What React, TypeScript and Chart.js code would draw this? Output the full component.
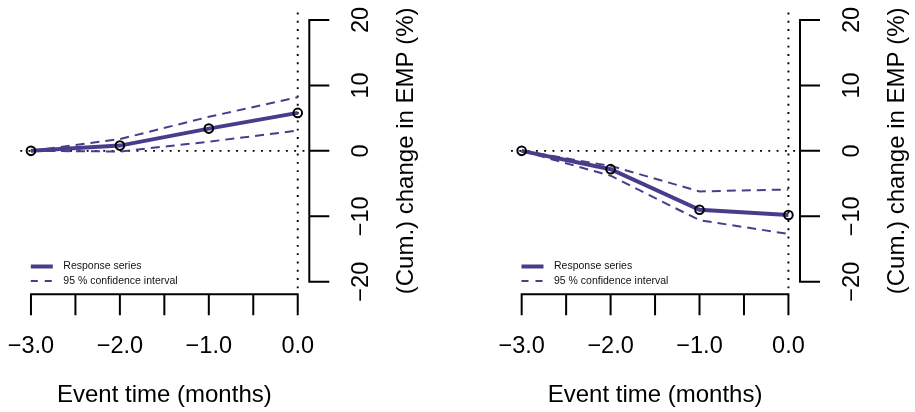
import React, { useEffect, useRef } from "react";
import { Chart, registerables } from "chart.js";

Chart.register(...registerables);

// ---- data ----
const eventTime = [-3, -2, -1, 0];
const leftResponse = [0, 0.8, 3.4, 5.8];
const leftUpper = [0, 1.8, 5.2, 8.2];
const leftLower = [0, -0.1, 1.4, 3.1];
const rightResponse = [0, -2.8, -9.0, -9.8];
const rightUpper = [0, -2.3, -6.2, -5.9];
const rightLower = [0, -3.8, -10.6, -12.7];

const xTicks = [-3, -2.5, -2, -1.5, -1, -0.5, 0];
const xTickLabels = ["\u22123.0", "", "\u22122.0", "", "\u22121.0", "", "0.0"];
const yTicks = [-20, -10, 0, 10, 20];
const yTickLabels = ["\u221220", "\u221210", "0", "10", "20"];
const legendLabels = ["Response series", "95 % confidence interval"];
const xTitle = "Event time (months)";
const yTitle = "(Cum.) change in EMP (%)";

const PURPLE = "#483D8B";
const FONT = '"Liberation Sans", Arial, Helvetica, sans-serif';

const rPlugin = {
  id: "rstyle",
  beforeDatasetsDraw(chart: any) {
    const { ctx, chartArea: a } = chart;
    const x = chart.scales.x;
    const y = chart.scales.y;
    const y0 = y.getPixelForValue(0);
    const x0 = x.getPixelForValue(0);
    ctx.save();
    ctx.strokeStyle = "#000";
    ctx.lineWidth = 1.9;
    ctx.setLineDash([1.9, 6.4]);
    ctx.beginPath();
    ctx.moveTo(a.left, y0);
    ctx.lineTo(a.right, y0);
    ctx.stroke();
    ctx.beginPath();
    ctx.moveTo(x0, a.top + 3);
    ctx.lineTo(x0, a.bottom);
    ctx.stroke();
    ctx.restore();
  },
  afterDraw(chart: any) {
    const { ctx, chartArea: a } = chart;
    const x = chart.scales.x;
    const y = chart.scales.y;
    ctx.save();
    ctx.strokeStyle = "#000";
    ctx.fillStyle = "#000";
    ctx.setLineDash([]);
    ctx.lineWidth = 2;
    ctx.lineCap = "square";

    // x axis
    const axY = a.bottom + 2.1;
    ctx.beginPath();
    ctx.moveTo(x.getPixelForValue(xTicks[0]), axY);
    ctx.lineTo(x.getPixelForValue(xTicks[xTicks.length - 1]), axY);
    xTicks.forEach((v) => {
      const px = x.getPixelForValue(v);
      ctx.moveTo(px, axY);
      ctx.lineTo(px, axY + 20);
    });
    ctx.stroke();
    ctx.font = `23.5px ${FONT}`;
    ctx.textAlign = "center";
    ctx.textBaseline = "middle";
    xTicks.forEach((v, i) => {
      if (xTickLabels[i]) ctx.fillText(xTickLabels[i], x.getPixelForValue(v), a.bottom + 54.5);
    });
    ctx.font = `24px ${FONT}`;
    const xMid = (x.getPixelForValue(xTicks[0]) + x.getPixelForValue(xTicks[xTicks.length - 1])) / 2;
    ctx.fillText(xTitle, xMid, a.bottom + 103);

    // y axis
    const axX = a.right + 0.9;
    ctx.beginPath();
    ctx.moveTo(axX, y.getPixelForValue(yTicks[0]));
    ctx.lineTo(axX, y.getPixelForValue(yTicks[yTicks.length - 1]));
    yTicks.forEach((v) => {
      const py = y.getPixelForValue(v);
      ctx.moveTo(axX, py);
      ctx.lineTo(axX + 19, py);
    });
    ctx.stroke();
    ctx.font = `23.5px ${FONT}`;
    yTicks.forEach((v, i) => {
      ctx.save();
      ctx.translate(a.right + 53.6, y.getPixelForValue(v));
      ctx.rotate(-Math.PI / 2);
      ctx.fillText(yTickLabels[i], 0, 0);
      ctx.restore();
    });
    ctx.font = `24px ${FONT}`;
    ctx.save();
    ctx.translate(a.right + 98.3, (a.top + a.bottom) / 2);
    ctx.rotate(-Math.PI / 2);
    ctx.fillText(yTitle, 0, 0);
    ctx.restore();

    // legend
    const ds = chart.data.datasets;
    const lx = a.left + 10.5;
    const ly1 = a.bottom - 25.7;
    const ly2 = a.bottom - 11.2;
    ctx.lineCap = "butt";
    ctx.strokeStyle = ds[0].borderColor;
    ctx.lineWidth = 4;
    ctx.beginPath();
    ctx.moveTo(lx, ly1);
    ctx.lineTo(lx + 22, ly1);
    ctx.stroke();
    ctx.strokeStyle = ds[1].borderColor;
    ctx.lineWidth = 2;
    ctx.setLineDash([7, 7]);
    ctx.beginPath();
    ctx.moveTo(lx, ly2);
    ctx.lineTo(lx + 22, ly2);
    ctx.stroke();
    ctx.setLineDash([]);
    ctx.font = `10.5px ${FONT}`;
    ctx.textAlign = "left";
    ctx.fillStyle = "#111";
    ctx.fillText(ds[0].label, a.left + 43, ly1);
    ctx.fillText(ds[1].label, a.left + 43, ly2);
    ctx.restore();
  },
};

function makeChart(
  canvas: HTMLCanvasElement,
  response: number[],
  upper: number[],
  lower: number[],
  padLeft: number,
  padRight: number
) {
  const toPts = (arr: number[]) => eventTime.map((t, i) => ({ x: t, y: arr[i] }));
  return new Chart(canvas, {
    type: "line",
    data: {
      datasets: [
        {
          label: legendLabels[0],
          data: toPts(response),
          borderColor: PURPLE,
          borderWidth: 4,
          pointRadius: 4.3,
          pointBorderWidth: 2,
          pointBorderColor: "#000",
          pointBackgroundColor: "rgba(0,0,0,0)",
          fill: false,
          tension: 0,
        },
        {
          label: legendLabels[1],
          data: toPts(upper),
          borderColor: PURPLE,
          borderWidth: 2,
          borderDash: [9, 6],
          pointRadius: 0,
          fill: false,
          tension: 0,
        },
        {
          label: "",
          data: toPts(lower),
          borderColor: PURPLE,
          borderWidth: 2,
          borderDash: [9, 6],
          pointRadius: 0,
          fill: false,
          tension: 0,
        },
      ],
    },
    options: {
      animation: false,
      responsive: false,
      devicePixelRatio: 1,
      events: [],
      layout: { padding: { left: padLeft, right: padRight, top: 9.5, bottom: 119.8 } },
      scales: {
        x: { type: "linear", min: -3.12, max: 0.12, display: false },
        y: { type: "linear", min: -21.6, max: 21.6, display: false },
      },
      plugins: { legend: { display: false }, tooltip: { enabled: false } },
    },
    plugins: [rPlugin],
  } as any);
}

export default function App() {
  const leftRef = useRef<HTMLCanvasElement>(null);
  const rightRef = useRef<HTMLCanvasElement>(null);
  useEffect(() => {
    const charts = [
      makeChart(leftRef.current!, leftResponse, leftUpper, leftLower, 20.3, 606.6),
      makeChart(rightRef.current!, rightResponse, rightUpper, rightLower, 511, 115.9),
    ];
    return () => charts.forEach((c) => c.destroy());
  }, []);
  return (
    <div style={{ position: "fixed", left: 0, top: 0, width: 915, height: 412, background: "#fff" }}>
      <canvas ref={leftRef} width={915} height={412} style={{ position: "absolute", left: 0, top: 0 }} />
      <canvas ref={rightRef} width={915} height={412} style={{ position: "absolute", left: 0, top: 0 }} />
    </div>
  );
}
